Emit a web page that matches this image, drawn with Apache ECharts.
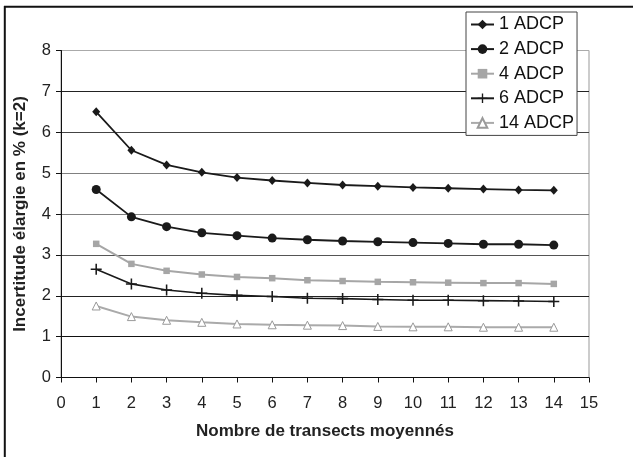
<!DOCTYPE html>
<html>
<head>
<meta charset="utf-8">
<script src="https://cdn.jsdelivr.net/npm/echarts@6/dist/echarts.min.js"></script>
<style>html,body{margin:0;padding:0;background:#fff}#c{width:633px;height:457px}</style>
</head>
<body>
<div id="c"></div>
<script>
const xValues = [1,2,3,4,5,6,7,8,9,10,11,12,13,14];
const adcp1  = [6.50,5.56,5.20,5.02,4.89,4.82,4.76,4.71,4.68,4.65,4.63,4.61,4.59,4.58];
const adcp2  = [4.60,3.93,3.69,3.54,3.47,3.41,3.37,3.34,3.32,3.30,3.28,3.26,3.26,3.24];
const adcp4  = [3.27,2.78,2.61,2.52,2.46,2.43,2.38,2.36,2.34,2.33,2.32,2.31,2.31,2.29];
const adcp6  = [2.65,2.29,2.14,2.06,2.01,1.98,1.94,1.93,1.91,1.89,1.89,1.88,1.87,1.86];
const adcp14 = [1.75,1.49,1.40,1.35,1.31,1.29,1.28,1.27,1.25,1.24,1.24,1.23,1.23,1.23];
const seriesNames = ['1 ADCP','2 ADCP','4 ADCP','6 ADCP','14 ADCP'];
const xTitle = 'Nombre de transects moyennés';
const yTitle = 'Incertitude élargie en % (k=2)';

const FONT = "'Liberation Sans', Arial, sans-serif";
const pts = arr => arr.map((v,i)=>[xValues[i], v]);
const plusPath = 'path://M4.3,0H5.7V4.3H10V5.7H5.7V10H4.3V5.7H0V4.3H4.3Z';

const chart = echarts.init(document.getElementById('c'), null, {renderer:'canvas'});
chart.setOption({
  backgroundColor:'#fff',
  animation:false,
  textStyle:{fontFamily:FONT},
  grid:{left:61, right:44, top:50.5, bottom:79.5, show:true, borderColor:'#999', borderWidth:1, backgroundColor:'transparent'},
  xAxis:{
    type:'value', min:0, max:15, interval:1,
    axisLine:{lineStyle:{color:'#111', width:1}},
    axisTick:{show:true, length:5, lineStyle:{color:'#111'}},
    axisLabel:{color:'#222', fontSize:16.5, margin:17, fontFamily:FONT},
    splitLine:{show:false},
    name:xTitle, nameLocation:'middle', nameGap:45,
    nameTextStyle:{fontSize:17, fontWeight:'bold', color:'#222', fontFamily:FONT}
  },
  yAxis:{
    type:'value', min:0, max:8, interval:1,
    axisLine:{show:true, lineStyle:{color:'#111', width:1}},
    axisTick:{show:true, length:5, lineStyle:{color:'#111'}},
    axisLabel:{color:'#222', fontSize:16.5, margin:10, fontFamily:FONT},
    splitLine:{show:true, lineStyle:{width:1, color:['#000','#111','#222','#555','#808080','#808080','#444','#222','#aaa']}},
    name:yTitle, nameLocation:'middle', nameGap:32, nameRotate:90,
    nameTextStyle:{fontSize:17, fontWeight:'bold', color:'#222', fontFamily:FONT}
  },
  legend:{
    orient:'vertical', left:466, top:12,
    backgroundColor:'#fff', borderColor:'#444', borderWidth:1,
    padding:[2.5,3,2.5,4], itemGap:4.6, itemWidth:23, itemHeight:12,
    textStyle:{fontSize:18, color:'#111', lineHeight:20, fontFamily:FONT},
    data:seriesNames
  },
  graphic:[
    {type:'line', shape:{x1:4, y1:6.8, x2:633, y2:6.8}, style:{stroke:'#111', lineWidth:2}, z:100},
    {type:'line', shape:{x1:4.8, y1:6, x2:4.8, y2:457}, style:{stroke:'#111', lineWidth:2}, z:100}
  ],
  series:[
    {name:seriesNames[0], type:'line', data:pts(adcp1), symbol:'diamond', symbolSize:[8,9],
     lineStyle:{color:'#1a1a1a', width:1.8}, itemStyle:{color:'#1a1a1a'}},
    {name:seriesNames[1], type:'line', data:pts(adcp2), symbol:'circle', symbolSize:9,
     lineStyle:{color:'#1a1a1a', width:1.8}, itemStyle:{color:'#1a1a1a'}},
    {name:seriesNames[2], type:'line', data:pts(adcp4), symbol:'rect', symbolSize:6.5,
     lineStyle:{color:'#a6a6a6', width:2}, itemStyle:{color:'#a6a6a6'}},
    {name:seriesNames[3], type:'line', data:pts(adcp6), symbol:plusPath, symbolSize:11,
     lineStyle:{color:'#1a1a1a', width:1.6}, itemStyle:{color:'#1a1a1a'}},
    {name:seriesNames[4], type:'line', data:pts(adcp14), symbol:'triangle', symbolSize:8,
     lineStyle:{color:'#aaaaaa', width:2}, itemStyle:{color:'#fff', borderColor:'#9a9a9a', borderWidth:1}}
  ]
});
</script>
</body>
</html>
